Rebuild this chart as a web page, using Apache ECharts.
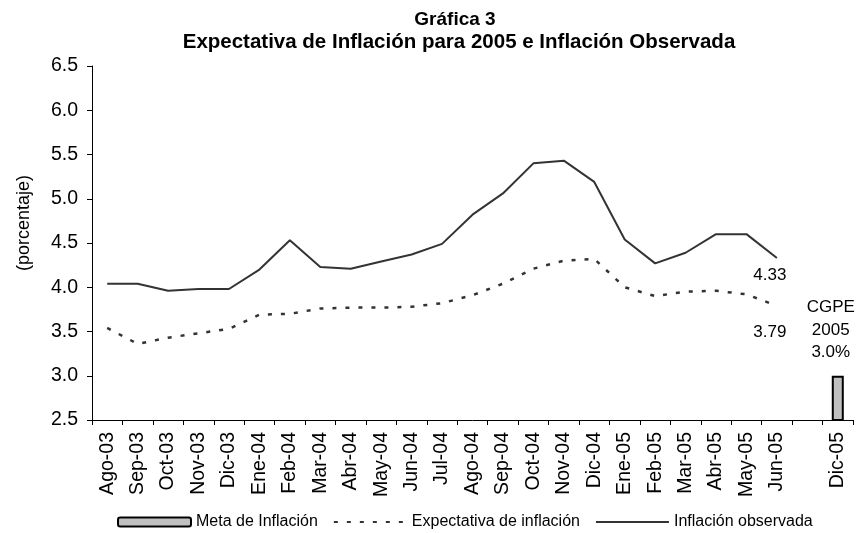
<!DOCTYPE html>
<html>
<head>
<meta charset="utf-8">
<script src="https://cdn.jsdelivr.net/npm/echarts@6/dist/echarts.min.js"></script>
<style>
  html, body { margin: 0; padding: 0; background: #fff; }
  #main { width: 857px; height: 533px; }
</style>
</head>
<body>
<div id="main"></div>
<script>
// meses del eje x (un hueco antes de Dic-05)
var meses = ["Ago-03", "Sep-03", "Oct-03", "Nov-03", "Dic-03", "Ene-04", "Feb-04", "Mar-04",
  "Abr-04", "May-04", "Jun-04", "Jul-04", "Ago-04", "Sep-04", "Oct-04", "Nov-04", "Dic-04",
  "Ene-05", "Feb-05", "Mar-05", "Abr-05", "May-05", "Jun-05", "", "Dic-05"];

var inflacionObservada = [4.04, 4.04, 3.96, 3.98, 3.98, 4.20, 4.53, 4.23, 4.21, 4.29, 4.37, 4.49,
  4.82, 5.06, 5.40, 5.43, 5.19, 4.54, 4.27, 4.39, 4.60, 4.60, 4.33];

var expectativaInflacion = [3.54, 3.36, 3.43, 3.48, 3.53, 3.69, 3.70, 3.76, 3.77, 3.77, 3.78, 3.82,
  3.91, 4.04, 4.21, 4.30, 4.32, 4.00, 3.90, 3.95, 3.96, 3.92, 3.79];

var metaInflacion = 3.0;
var yTicks = [2.5, 6.5, 0.5]; // min, max, intervalo

var fuente = "'Liberation Sans', Arial, sans-serif";

function rellenar(arr) {
  var out = arr.slice();
  while (out.length < meses.length) out.push(null);
  return out;
}

// etiqueta con el ultimo valor, debajo del punto
function ultimoValor(arr, offset) {
  var i = arr.length - 1;
  return {
    symbol: "circle",
    symbolSize: 0,
    label: {
      show: true,
      position: "bottom",
      offset: offset,
      color: "#000",
      fontSize: 17,
      fontFamily: fuente,
      formatter: function (p) { return p.value.toFixed(2); }
    },
    data: [{ coord: [i, arr[i]], value: arr[i] }]
  };
}

var metaData = meses.map(function (m, i) {
  if (i !== meses.length - 1) return null;
  return {
    value: metaInflacion,
    label: {
      show: true,
      position: "top",
      distance: 12,
      offset: [-7, 0],
      formatter: "CGPE\n2005\n3.0%",
      lineHeight: 22.5,
      color: "#000",
      fontSize: 17,
      fontFamily: fuente
    }
  };
});

var myChart = echarts.init(document.getElementById("main"));

var option = {
  animation: false,
  backgroundColor: "#fff",
  title: [
    {
      text: "Gráfica 3",
      left: 450,
      top: 5,
      textAlign: "center",
      textStyle: { fontSize: 19, fontWeight: "bold", color: "#000", fontFamily: fuente }
    },
    {
      text: "Expectativa de Inflación para 2005 e Inflación Observada",
      left: 454,
      top: 27,
      textAlign: "center",
      textStyle: { fontSize: 20.5, fontWeight: "bold", color: "#000", fontFamily: fuente }
    }
  ],
  legend: {
    left: 117,
    top: 514,
    padding: 0,
    itemWidth: 73,
    itemHeight: 9,
    itemGap: 15,
    textStyle: { fontSize: 16, color: "#000", fontFamily: fuente },
    data: [
      "Meta de Inflación",
      { name: "Expectativa de inflación", itemStyle: { opacity: 0 } },
      { name: "Inflación observada", itemStyle: { opacity: 0 } }
    ]
  },
  grid: { left: 92, right: 4, top: 66, bottom: 113 },
  xAxis: {
    type: "category",
    data: meses,
    boundaryGap: true,
    axisLine: { lineStyle: { color: "#000", width: 1 } },
    axisTick: { show: true, interval: 0, length: 5, lineStyle: { color: "#000" } },
    axisLabel: {
      interval: 0,
      rotate: 90,
      margin: 12,
      fontSize: 19.5,
      color: "#000",
      fontFamily: fuente
    },
    splitLine: { show: false }
  },
  yAxis: {
    type: "value",
    min: yTicks[0],
    max: yTicks[1],
    interval: yTicks[2],
    name: "(porcentaje)",
    nameLocation: "middle",
    nameGap: 59,
    nameTextStyle: { fontSize: 18, color: "#000", fontFamily: fuente, padding: [0, 0, 0, 40] },
    axisLine: { show: true, lineStyle: { color: "#000", width: 1 } },
    axisTick: { show: true, length: 5, lineStyle: { color: "#000" } },
    axisLabel: {
      margin: 14,
      fontSize: 19.5,
      color: "#000",
      fontFamily: fuente,
      formatter: function (v) { return v.toFixed(1); }
    },
    splitLine: { show: false }
  },
  series: [
    {
      name: "Meta de Inflación",
      type: "bar",
      data: metaData,
      barWidth: 12,
      itemStyle: { color: "#c0c0c0", borderColor: "#000", borderWidth: 2 }
    },
    {
      name: "Expectativa de inflación",
      type: "line",
      data: rellenar(expectativaInflacion),
      symbol: "none",
      lineStyle: { color: "#333", width: 2.5, type: [4, 9] },
      itemStyle: { color: "#333" },
      markPoint: ultimoValor(expectativaInflacion, [-7, 13])
    },
    {
      name: "Inflación observada",
      type: "line",
      data: rellenar(inflacionObservada),
      symbol: "none",
      lineStyle: { color: "#333", width: 2 },
      itemStyle: { color: "#333" },
      markPoint: ultimoValor(inflacionObservada, [-7, 4])
    }
  ]
};

myChart.setOption(option);
</script>
</body>
</html>
